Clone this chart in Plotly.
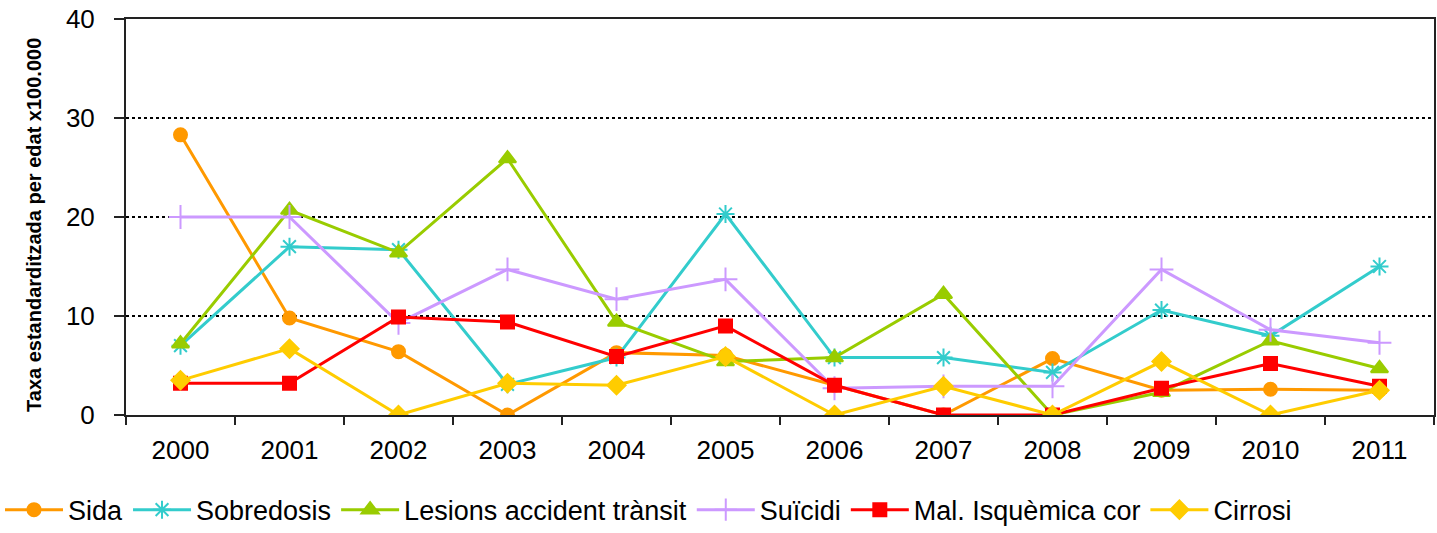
import plotly.graph_objects as go

years = ["2000", "2001", "2002", "2003", "2004", "2005",
         "2006", "2007", "2008", "2009", "2010", "2011"]

sida = [28.3, 9.8, 6.4, 0.0, 6.3, 6.0, 3.0, 0.0, 5.7, 2.5, 2.6, 2.5]
sobredosis = [7.0, 17.0, 16.7, 3.1, 5.8, 20.3, 5.8, 5.8, 4.3, 10.6, 8.0, 15.0]
lesions = [7.2, 20.7, 16.4, 25.9, 9.4, 5.4, 5.8, 12.2, 0.0, 2.3, 7.5, 4.7]
suicidi = [20.0, 20.0, 9.3, 14.7, 11.7, 13.7, 2.7, 2.9, 2.9, 14.7, 8.6, 7.3]
mal_isquemica = [3.2, 3.2, 9.9, 9.4, 5.9, 9.0, 3.0, 0.0, 0.0, 2.7, 5.2, 2.9]
cirrosi = [3.5, 6.7, 0.0, 3.2, 3.0, 5.9, 0.0, 2.9, 0.0, 5.4, 0.0, 2.5]

series = [
    ("Sida", sida, "#FF9900", "circle", 13),
    ("Sobredosis", sobredosis, "#33CCCC", "asterisk-open", 15),
    ("Lesions accident trànsit", lesions, "#99CC00", "triangle-up", 15),
    ("Suïcidi", suicidi, "#CC99FF", "cross-thin-open", 17),
    ("Mal. Isquèmica cor", mal_isquemica, "#FF0000", "square", 13),
    ("Cirrosi", cirrosi, "#FFCC00", "diamond", 14),
]

fig = go.Figure()
for name, vals, color, symbol, size in series:
    fig.add_trace(go.Scatter(
        x=years, y=vals, name=name, mode="lines+markers",
        line=dict(color=color, width=3),
        marker=dict(symbol=symbol, size=size, color=color,
                    line=dict(color=color, width=2)),
    ))

font_family = "Liberation Sans, Arial, sans-serif"

fig.update_layout(
    width=1437, height=533,
    margin=dict(l=126, r=3, t=19, b=118, autoexpand=False),
    paper_bgcolor="white", plot_bgcolor="white",
    font=dict(family=font_family, color="black", size=26),
    showlegend=True,
    legend=dict(orientation="h", x=0.0, xref="container", xanchor="left",
                y=0.043, yref="container", yanchor="middle",
                font=dict(size=27, family=font_family), itemwidth=58,
                tracegroupgap=0),
)

fig.update_xaxes(
    type="category", range=[-0.5, 11.5],
    showline=True, linecolor="#222", linewidth=2, mirror=True,
    ticks="outside", tickson="boundaries", ticklen=8, tickwidth=2, tickcolor="#222",
    showgrid=False, tickfont=dict(size=26), ticklabelstandoff=11,
)

fig.update_yaxes(
    range=[0, 40], dtick=10,
    showline=True, linecolor="#222", linewidth=2, mirror=True,
    ticks="outside", ticklen=10, tickwidth=2, tickcolor="#222",
    showgrid=True, gridcolor="black", gridwidth=2, griddash="dot",
    zeroline=False, tickfont=dict(size=26), ticklabelstandoff=14,
)

# Rotated y-axis caption placed beside the tick labels
fig.add_annotation(
    text="<b>Taxa estandarditzada per edat x100.000</b>",
    xref="paper", yref="paper", x=-0.0703, y=0.48,
    xanchor="center", yanchor="middle", textangle=-90, showarrow=False,
    font=dict(size=20, family=font_family, color="black"),
)

fig.write_html("out.html")
